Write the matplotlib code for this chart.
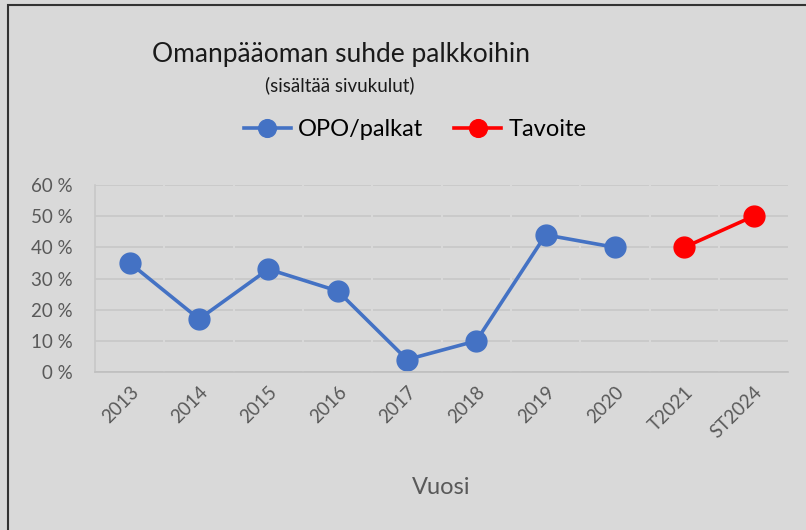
import matplotlib.pyplot as plt
from matplotlib.patches import Rectangle
from matplotlib.ticker import FuncFormatter

plt.rcParams['font.family'] = ['Lato', 'DejaVu Sans']

vuodet = ['2013', '2014', '2015', '2016', '2017', '2018', '2019', '2020', 'T2021', 'ST2024']
opo_x = [0, 1, 2, 3, 4, 5, 6, 7]
opo = [0.35, 0.17, 0.33, 0.26, 0.04, 0.10, 0.44, 0.40]
tav_x = [8, 9]
tavoite = [0.40, 0.50]

bg = '#d9d9d9'
fig = plt.figure(figsize=(8.06, 5.30), dpi=100, facecolor=bg)
fig.patches.append(Rectangle((0.010, -0.01), 1.0, 1.0 - 0.0094 + 0.01, transform=fig.transFigure,
                             fill=False, edgecolor='#333333', linewidth=1.5))

ax = fig.add_axes([0.118, 0.298, 0.860, 0.353])
ax.set_facecolor(bg)
ax.plot(opo_x, opo, color='#4472c4', linewidth=2.6, marker='o', markersize=15, label='OPO/palkat')
ax.plot(tav_x, tavoite, color='#ff0000', linewidth=2.6, marker='o', markersize=15, label='Tavoite')

ax.set_xlim(-0.5, 9.5)
ax.set_ylim(0, 0.6)
ax.set_yticks([0, 0.1, 0.2, 0.3, 0.4, 0.5, 0.6])
ax.yaxis.set_major_formatter(FuncFormatter(lambda v, p: '%d %%' % round(v * 100)))
ax.set_xticks(range(len(vuodet)))
ax.set_xticklabels(vuodet, rotation=45, ha='right', rotation_mode='anchor')
ax.tick_params(axis='both', length=0, labelsize=13.5, colors='#595959')
ax.tick_params(axis='y', pad=16)
ax.tick_params(axis='x', pad=8)
ax.grid(axis='y', color='#c8c8c8', linewidth=1.2)
ax.set_axisbelow(True)
# pienet katkot ruudukossa luokkien välissä
for i in range(len(vuodet) - 1):
    ax.axvline(i + 0.5, color=bg, linewidth=1.5, zorder=0.6)
for s in ['top', 'right']:
    ax.spines[s].set_visible(False)
ax.spines['left'].set_color('#c8c8c8')
ax.spines['bottom'].set_color('#bfbfbf')
ax.spines['left'].set_linewidth(1.2)
ax.spines['bottom'].set_linewidth(1.2)

fig.text(0.423, 0.897, 'Omanpääoman suhde palkkoihin', fontsize=19, ha='center', va='center', color='#1a1a1a')
fig.text(0.421, 0.840, '(sisältää sivukulut)', fontsize=13.5, ha='center', va='center', color='#1a1a1a')
fig.legend(loc='center', bbox_to_anchor=(0.515, 0.755), ncol=2, frameon=False, fontsize=17,
           handlelength=2.0, markerscale=0.85, columnspacing=1.3, handletextpad=0.3)
fig.text(0.547, 0.081, 'Vuosi', fontsize=17, ha='center', va='center', color='#595959')

fig.savefig('out.png', dpi=100, facecolor=bg)
